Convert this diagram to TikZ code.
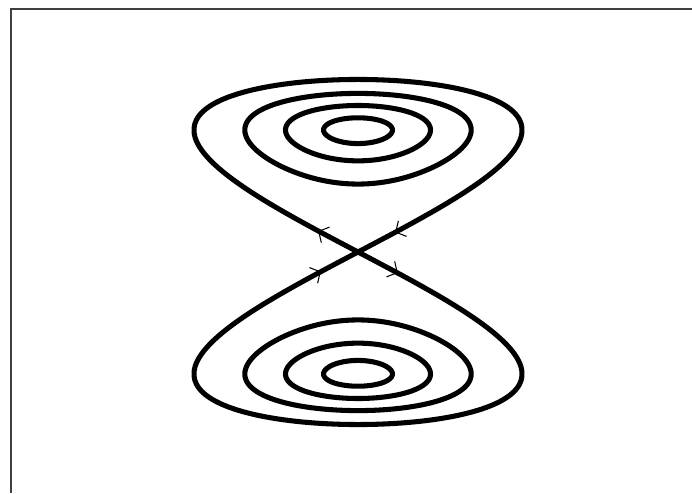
\documentclass[tikz,border=0pt]{standalone}
\usepackage{tikz}
\usetikzlibrary{arrows.meta}

\begin{document}
\begin{tikzpicture}[
    x=5.8cm, y=3.05cm,
    orbit/.style={line width=3.6pt, line join=round},
    flow/.style={line width=0.75pt, -{Straight Barb[length=1.9mm, width=4.4mm]}},
    frame/.style={line width=0.8pt, black!75},
  ]
  \useasboundingbox (-8.95cm,-6.025cm) rectangle (8.35cm,6.3cm);
  \draw[frame] (-8.675cm,-6.025cm) -- (-8.675cm,6.075cm) -- (8.35cm,6.075cm);

  % separatrix through the saddle
  \draw[orbit] plot[domain=0:358, samples=180, smooth cycle, variable=\t]
    ({sin(2*\t)/sqrt(2)}, {sqrt(2)*sin(\t)});

  % closed orbits around the two centres
  \foreach \c in {0.105,0.221,0.345} {
    \foreach \s in {1,-1} {
      \draw[orbit] plot[domain=0:357, samples=120, smooth cycle, variable=\t]
        ({sqrt(2)*\c*sin(\t)}, {\s*sqrt(1+2*\c*cos(\t))});
    }
  }

  % flow directions near the saddle
  \draw[flow] (-0.15,0.15) -- (-0.172,0.172);
  \draw[flow] (0.18,0.18) -- (0.16,0.16);
  \draw[flow] (-0.18,-0.18) -- (-0.16,-0.16);
  \draw[flow] (0.15,-0.15) -- (0.172,-0.172);
\end{tikzpicture}
\end{document}
